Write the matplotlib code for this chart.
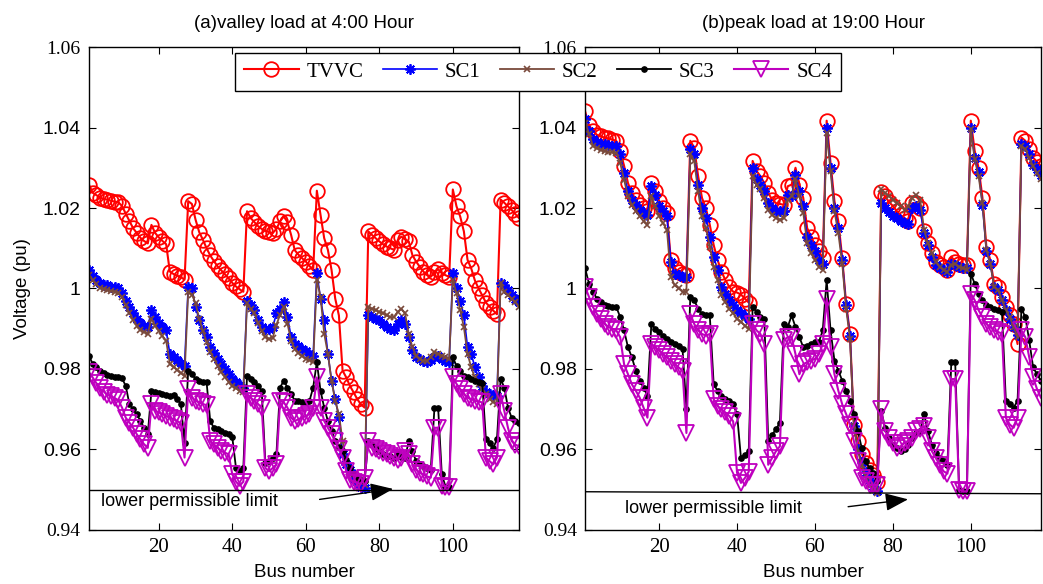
import numpy as np
import matplotlib
matplotlib.use("Agg")
import matplotlib.pyplot as plt

bus = np.arange(1, 119)

# (a) valley load at 4:00
valley_tvvc = [1.0258, 1.0238, 1.0232, 1.0226, 1.0222, 1.0221, 1.0218, 1.0216, 1.0214, 1.0205,
               1.0186, 1.0168, 1.0150, 1.0138, 1.0126, 1.0118, 1.0112, 1.0158, 1.0138, 1.0127,
               1.0118, 1.0110, 1.0042, 1.0036, 1.0032, 1.0028, 1.0022, 1.0217, 1.0210, 1.0171,
               1.0140, 1.0121, 1.0100, 1.0082, 1.0068, 1.0055, 1.0045, 1.0035, 1.0025, 1.0014,
               1.0005, 0.9998, 0.9992, 1.0192, 1.0175, 1.0165, 1.0155, 1.0148, 1.0143, 1.0140,
               1.0138, 1.0148, 1.0167, 1.0179, 1.0165, 1.0133, 1.0095, 1.0084, 1.0075, 1.0067,
               1.0056, 1.0045, 1.0243, 1.0183, 1.0125, 1.0096, 1.0046, 0.9975, 0.9933, 0.9796,
               0.9779, 0.9758, 0.9742, 0.9725, 0.9712, 0.9704, 1.0142, 1.0133, 1.0125, 1.0117,
               1.0110, 1.0104, 1.0100, 1.0096, 1.0120, 1.0129, 1.0122, 1.0117, 1.0083, 1.0067,
               1.0054, 1.0042, 1.0033, 1.0029, 1.0040, 1.0048, 1.0038, 1.0033, 1.0029, 1.0246,
               1.0204, 1.0179, 1.0142, 1.0071, 1.0050, 1.0020, 1.0000, 0.9983, 0.9965, 0.9955,
               0.9945, 0.9936, 1.0221, 1.0213, 1.0204, 1.0195, 1.0185, 1.0175]
valley_sc1 = [1.0046, 1.0030, 1.0021, 1.0013, 1.0008, 1.0008, 1.0004, 1.0004, 1.0000, 0.9988,
              0.9970, 0.9954, 0.9938, 0.9925, 0.9915, 0.9908, 0.9904, 0.9946, 0.9929, 0.9915,
              0.9905, 0.9896, 0.9838, 0.9830, 0.9822, 0.9815, 0.9808, 1.0004, 1.0000, 0.9954,
              0.9921, 0.9896, 0.9880, 0.9854, 0.9840, 0.9825, 0.9812, 0.9800, 0.9788, 0.9775,
              0.9768, 0.9760, 0.9754, 0.9970, 0.9960, 0.9946, 0.9921, 0.9904, 0.9900, 0.9900,
              0.9904, 0.9938, 0.9950, 0.9967, 0.9929, 0.9880, 0.9863, 0.9856, 0.9850, 0.9844,
              0.9838, 0.9833, 1.0038, 0.9975, 0.9921, 0.9838, 0.9771, 0.9725, 0.9680, 0.9588,
              0.9565, 0.9548, 0.9530, 0.9518, 0.9508, 0.9504, 0.9933, 0.9930, 0.9925, 0.9921,
              0.9912, 0.9904, 0.9900, 0.9896, 0.9913, 0.9921, 0.9913, 0.9880, 0.9846, 0.9830,
              0.9825, 0.9821, 0.9817, 0.9822, 0.9830, 0.9833, 0.9825, 0.9821, 0.9818, 1.0038,
              1.0000, 0.9970, 0.9933, 0.9854, 0.9838, 0.9804, 0.9779, 0.9758, 0.9742, 0.9738,
              0.9735, 0.9733, 1.0013, 1.0008, 0.9996, 0.9985, 0.9975, 0.9967]
valley_sc2 = [1.0033, 1.0020, 1.0010, 1.0002, 0.9998, 0.9996, 0.9994, 0.9992, 0.9990, 0.9978,
              0.9958, 0.9940, 0.9922, 0.9908, 0.9898, 0.9892, 0.9888, 0.9925, 0.9908, 0.9895,
              0.9882, 0.9870, 0.9813, 0.9805, 0.9798, 0.9790, 0.9783, 0.9992, 0.9985, 0.9963,
              0.9925, 0.9895, 0.9868, 0.9842, 0.9825, 0.9808, 0.9792, 0.9780, 0.9768, 0.9758,
              0.9752, 0.9746, 0.9742, 0.9963, 0.9950, 0.9938, 0.9915, 0.9895, 0.9880, 0.9875,
              0.9878, 0.9910, 0.9935, 0.9954, 0.9913, 0.9870, 0.9850, 0.9840, 0.9832, 0.9826,
              0.9822, 0.9818, 1.0021, 0.9979, 0.9888, 0.9838, 0.9771, 0.9720, 0.9688, 0.9621,
              0.9571, 0.9550, 0.9538, 0.9525, 0.9518, 0.9513, 0.9954, 0.9950, 0.9946, 0.9942,
              0.9938, 0.9933, 0.9929, 0.9929, 0.9942, 0.9950, 0.9938, 0.9888, 0.9854, 0.9833,
              0.9825, 0.9821, 0.9821, 0.9830, 0.9842, 0.9838, 0.9833, 0.9829, 0.9825, 1.0021,
              0.9988, 0.9946, 0.9904, 0.9838, 0.9804, 0.9779, 0.9763, 0.9750, 0.9738, 0.9725,
              0.9718, 0.9713, 1.0013, 0.9992, 0.9983, 0.9975, 0.9967, 0.9954]
valley_sc3 = [0.9833, 0.9813, 0.9804, 0.9795, 0.9790, 0.9786, 0.9783, 0.9780, 0.9779, 0.9777,
              0.9758, 0.9713, 0.9700, 0.9688, 0.9671, 0.9654, 0.9638, 0.9746, 0.9742, 0.9740,
              0.9738, 0.9736, 0.9733, 0.9735, 0.9725, 0.9713, 0.9617, 0.9796, 0.9788, 0.9775,
              0.9771, 0.9767, 0.9767, 0.9670, 0.9654, 0.9650, 0.9646, 0.9642, 0.9638, 0.9630,
              0.9554, 0.9546, 0.9554, 0.9783, 0.9775, 0.9767, 0.9758, 0.9746, 0.9567, 0.9571,
              0.9579, 0.9588, 0.9754, 0.9771, 0.9754, 0.9738, 0.9721, 0.9721, 0.9717, 0.9719,
              0.9721, 0.9754, 0.9817, 0.9746, 0.9704, 0.9671, 0.9646, 0.9621, 0.9605, 0.9596,
              0.9575, 0.9554, 0.9538, 0.9530, 0.9525, 0.9521, 0.9621, 0.9612, 0.9604, 0.9596,
              0.9588, 0.9585, 0.9583, 0.9579, 0.9588, 0.9582, 0.9578, 0.9621, 0.9596, 0.9571,
              0.9563, 0.9558, 0.9554, 0.9550, 0.9704, 0.9704, 0.9538, 0.9508, 0.9508, 0.9829,
              0.9808, 0.9796, 0.9783, 0.9779, 0.9775, 0.9771, 0.9767, 0.9765, 0.9625, 0.9617,
              0.9604, 0.9625, 0.9775, 0.9754, 0.9704, 0.9679, 0.9672, 0.9667]
valley_sc4 = [0.9792, 0.9779, 0.9765, 0.9752, 0.9744, 0.9736, 0.9732, 0.9728, 0.9722, 0.9704,
              0.9679, 0.9667, 0.9654, 0.9638, 0.9625, 0.9613, 0.9604, 0.9713, 0.9696, 0.9692,
              0.9688, 0.9683, 0.9679, 0.9675, 0.9671, 0.9665, 0.9580, 0.9750, 0.9729, 0.9721,
              0.9717, 0.9713, 0.9710, 0.9621, 0.9613, 0.9604, 0.9596, 0.9592, 0.9588, 0.9538,
              0.9520, 0.9510, 0.9520, 0.9738, 0.9729, 0.9721, 0.9713, 0.9704, 0.9554, 0.9546,
              0.9554, 0.9563, 0.9721, 0.9717, 0.9704, 0.9679, 0.9671, 0.9675, 0.9679, 0.9683,
              0.9688, 0.9704, 0.9779, 0.9704, 0.9671, 0.9654, 0.9638, 0.9621, 0.9600, 0.9580,
              0.9546, 0.9525, 0.9520, 0.9517, 0.9515, 0.9529, 0.9621, 0.9604, 0.9600, 0.9596,
              0.9592, 0.9588, 0.9583, 0.9578, 0.9575, 0.9580, 0.9596, 0.9588, 0.9563, 0.9550,
              0.9542, 0.9538, 0.9533, 0.9530, 0.9654, 0.9654, 0.9510, 0.9508, 0.9508, 0.9779,
              0.9763, 0.9750, 0.9738, 0.9729, 0.9725, 0.9721, 0.9719, 0.9717, 0.9580, 0.9571,
              0.9563, 0.9580, 0.9738, 0.9696, 0.9654, 0.9621, 0.9612, 0.9608]

# (b) peak load at 19:00
peak_tvvc = [1.0440, 1.0405, 1.0392, 1.0382, 1.0378, 1.0375, 1.0373, 1.0370, 1.0367, 1.0342,
             1.0305, 1.0262, 1.0237, 1.0221, 1.0208, 1.0200, 1.0192, 1.0262, 1.0242, 1.0218,
             1.0200, 1.0188, 1.0071, 1.0050, 1.0042, 1.0037, 1.0033, 1.0367, 1.0350, 1.0280,
             1.0225, 1.0200, 1.0158, 1.0108, 1.0071, 1.0042, 1.0021, 1.0004, 0.9992, 0.9990,
             0.9985, 0.9975, 0.9965, 1.0317, 1.0292, 1.0279, 1.0262, 1.0237, 1.0221, 1.0212,
             1.0210, 1.0208, 1.0254, 1.0258, 1.0300, 1.0258, 1.0225, 1.0150, 1.0129, 1.0108,
             1.0092, 1.0075, 1.0417, 1.0312, 1.0217, 1.0167, 1.0075, 0.9962, 0.9888, 0.9660,
             0.9620, 0.9590, 0.9567, 0.9550, 0.9537, 0.9520, 1.0240, 1.0229, 1.0215, 1.0205,
             1.0192, 1.0182, 1.0175, 1.0167, 1.0212, 1.0212, 1.0200, 1.0142, 1.0112, 1.0087,
             1.0067, 1.0058, 1.0054, 1.0046, 1.0079, 1.0067, 1.0062, 1.0058, 1.0058, 1.0417,
             1.0342, 1.0300, 1.0225, 1.0104, 1.0071, 1.0012, 1.0004, 0.9979, 0.9954, 0.9933,
             0.9912, 0.9862, 1.0375, 1.0367, 1.0346, 1.0325, 1.0315, 1.0304]
peak_sc1 = [1.0421, 1.0392, 1.0371, 1.0365, 1.0360, 1.0358, 1.0356, 1.0355, 1.0354, 1.0333,
            1.0287, 1.0242, 1.0221, 1.0208, 1.0196, 1.0187, 1.0183, 1.0254, 1.0233, 1.0204,
            1.0192, 1.0179, 1.0067, 1.0037, 1.0033, 1.0029, 1.0029, 1.0346, 1.0333, 1.0258,
            1.0200, 1.0175, 1.0129, 1.0079, 1.0046, 1.0004, 0.9987, 0.9971, 0.9958, 0.9946,
            0.9940, 0.9932, 0.9925, 1.0300, 1.0271, 1.0258, 1.0242, 1.0212, 1.0200, 1.0192,
            1.0192, 1.0192, 1.0233, 1.0229, 1.0283, 1.0242, 1.0204, 1.0129, 1.0108, 1.0092,
            1.0071, 1.0062, 1.0400, 1.0300, 1.0200, 1.0150, 1.0071, 0.9958, 0.9883, 0.9658,
            0.9600, 0.9570, 0.9545, 0.9525, 0.9510, 0.9496, 1.0212, 1.0200, 1.0190, 1.0180,
            1.0175, 1.0167, 1.0162, 1.0160, 1.0200, 1.0204, 1.0196, 1.0137, 1.0108, 1.0079,
            1.0058, 1.0050, 1.0046, 1.0042, 1.0062, 1.0058, 1.0054, 1.0050, 1.0050, 1.0400,
            1.0325, 1.0290, 1.0208, 1.0092, 1.0062, 1.0004, 0.9996, 0.9971, 0.9946, 0.9925,
            0.9904, 0.9885, 1.0358, 1.0354, 1.0333, 1.0308, 1.0296, 1.0283]
peak_sc2 = [1.0412, 1.0385, 1.0354, 1.0348, 1.0344, 1.0341, 1.0339, 1.0338, 1.0337, 1.0312,
            1.0270, 1.0229, 1.0208, 1.0192, 1.0179, 1.0167, 1.0158, 1.0229, 1.0204, 1.0179,
            1.0162, 1.0146, 1.0029, 1.0008, 1.0000, 0.9992, 0.9992, 1.0333, 1.0317, 1.0242,
            1.0179, 1.0150, 1.0104, 1.0054, 1.0021, 0.9983, 0.9967, 0.9950, 0.9938, 0.9925,
            0.9917, 0.9908, 0.9900, 1.0279, 1.0258, 1.0246, 1.0225, 1.0196, 1.0183, 1.0175,
            1.0171, 1.0175, 1.0221, 1.0229, 1.0271, 1.0229, 1.0188, 1.0112, 1.0087, 1.0071,
            1.0054, 1.0046, 1.0387, 1.0292, 1.0192, 1.0137, 1.0062, 0.9950, 0.9875, 0.9658,
            0.9596, 0.9562, 0.9533, 0.9512, 0.9500, 0.9492, 1.0246, 1.0237, 1.0229, 1.0221,
            1.0212, 1.0204, 1.0196, 1.0204, 1.0225, 1.0233, 1.0221, 1.0146, 1.0112, 1.0087,
            1.0067, 1.0054, 1.0046, 1.0042, 1.0058, 1.0062, 1.0054, 1.0050, 1.0046, 1.0396,
            1.0321, 1.0279, 1.0212, 1.0096, 1.0062, 1.0004, 0.9996, 0.9971, 0.9946, 0.9929,
            0.9904, 0.9879, 1.0354, 1.0346, 1.0325, 1.0304, 1.0287, 1.0271]
peak_sc3 = [1.0050, 1.0012, 0.9992, 0.9975, 0.9966, 0.9958, 0.9956, 0.9954, 0.9954, 0.9929,
            0.9896, 0.9854, 0.9829, 0.9796, 0.9771, 0.9754, 0.9733, 0.9912, 0.9900, 0.9892,
            0.9883, 0.9875, 0.9867, 0.9862, 0.9858, 0.9850, 0.9700, 0.9979, 0.9971, 0.9950,
            0.9937, 0.9933, 0.9933, 0.9762, 0.9746, 0.9733, 0.9725, 0.9721, 0.9712, 0.9688,
            0.9579, 0.9587, 0.9596, 0.9954, 0.9942, 0.9929, 0.9925, 0.9621, 0.9637, 0.9650,
            0.9667, 0.9912, 0.9904, 0.9933, 0.9904, 0.9879, 0.9854, 0.9858, 0.9862, 0.9867,
            0.9867, 0.9896, 1.0021, 0.9896, 0.9821, 0.9796, 0.9771, 0.9746, 0.9721, 0.9688,
            0.9646, 0.9604, 0.9571, 0.9554, 0.9542, 0.9521, 0.9696, 0.9654, 0.9629, 0.9612,
            0.9604, 0.9596, 0.9600, 0.9612, 0.9629, 0.9640, 0.9646, 0.9688, 0.9646, 0.9612,
            0.9592, 0.9580, 0.9571, 0.9562, 0.9817, 0.9817, 0.9500, 0.9496, 0.9496, 1.0037,
            1.0012, 0.9987, 0.9971, 0.9958, 0.9954, 0.9950, 0.9946, 0.9942, 0.9721, 0.9712,
            0.9704, 0.9721, 0.9950, 0.9929, 0.9871, 0.9804, 0.9787, 0.9771]
peak_sc4 = [1.0004, 0.9979, 0.9954, 0.9937, 0.9925, 0.9912, 0.9904, 0.9900, 0.9896, 0.9879,
            0.9812, 0.9787, 0.9762, 0.9746, 0.9729, 0.9704, 0.9679, 0.9862, 0.9854, 0.9846,
            0.9837, 0.9829, 0.9821, 0.9812, 0.9804, 0.9796, 0.9641, 0.9937, 0.9912, 0.9896,
            0.9887, 0.9883, 0.9887, 0.9725, 0.9708, 0.9700, 0.9692, 0.9683, 0.9670, 0.9542,
            0.9517, 0.9529, 0.9545, 0.9912, 0.9896, 0.9887, 0.9862, 0.9562, 0.9579, 0.9596,
            0.9608, 0.9871, 0.9879, 0.9879, 0.9837, 0.9787, 0.9812, 0.9817, 0.9821, 0.9825,
            0.9837, 0.9862, 0.9975, 0.9854, 0.9787, 0.9746, 0.9712, 0.9688, 0.9662, 0.9621,
            0.9571, 0.9529, 0.9521, 0.9512, 0.9512, 0.9512, 0.9700, 0.9646, 0.9629, 0.9617,
            0.9604, 0.9608, 0.9617, 0.9621, 0.9629, 0.9646, 0.9650, 0.9658, 0.9629, 0.9596,
            0.9579, 0.9562, 0.9546, 0.9540, 0.9775, 0.9775, 0.9500, 0.9496, 0.9496, 0.9987,
            0.9971, 0.9946, 0.9929, 0.9912, 0.9904, 0.9896, 0.9892, 0.9888, 0.9679, 0.9662,
            0.9654, 0.9679, 0.9896, 0.9879, 0.9829, 0.9779, 0.9750, 0.9729]

names = ['TVVC', 'SC1', 'SC2', 'SC3', 'SC4']
titles = ['(a)valley load at 4:00 Hour', '(b)peak load at 19:00 Hour']
yticks = [0.94, 0.96, 0.98, 1.0, 1.02, 1.04, 1.06]
ytick_labels = ['0.94', '0.96', '0.98', '1', '1.02', '1.04', '1.06']
xticks = [20, 40, 60, 80, 100]
limit = 0.95

styles = [
    dict(color='#ff0000', marker='o', ms=10.5, mfc='none', mew=1.3, lw=1.5),
    dict(color='#0000ff', marker=(8, 2, 0), ms=7.5, mew=1.3, lw=1.2),
    dict(color='#7a4a3c', marker='x', ms=3.8, mew=1.2, lw=1.3),
    dict(color='#000000', marker='o', ms=3.8, lw=1.3),
    dict(color='#bf00bf', marker='v', ms=11, mfc='none', mew=1.3, lw=1.5),
]

SANS = 'Liberation Sans'
SERIF = 'Liberation Serif'

fig = plt.figure(figsize=(10.43, 5.84), dpi=100)
ax1 = fig.add_axes([0.0853, 0.0925, 0.4123, 0.827])
ax2 = fig.add_axes([0.561, 0.0925, 0.437, 0.827])

panels = [(ax1, [valley_tvvc, valley_sc1, valley_sc2, valley_sc3, valley_sc4]),
          (ax2, [peak_tvvc, peak_sc1, peak_sc2, peak_sc3, peak_sc4])]

for k, (ax, series) in enumerate(panels):
    for vals, st, nm in zip(series, styles, names):
        ax.plot(bus, vals, label=nm, **st)
    ax.set_xlim(1, 118)
    ax.set_ylim(0.94, 1.06)
    ax.set_xticks(xticks)
    ax.set_xticklabels([str(t) for t in xticks], family=SERIF, fontsize=15)
    ax.set_yticks(yticks)
    ax.set_yticklabels(ytick_labels, family=SANS, fontsize=14)
    for lab in ax.get_yticklabels():
        if lab.get_text() in ('0.94', '1.06'):
            lab.set_family(SERIF)
    ax.tick_params(direction='in', top=True, right=True, length=5, width=0.8, pad=6)
    ax.set_title(titles[k], family=SANS, fontsize=13.5, pad=14)
    ax.set_xlabel('Bus number', family=SANS, fontsize=13.5, labelpad=5)
    for sp in ax.spines.values():
        sp.set_linewidth(1.0)

# lower permissible limit
ax1.plot([1, 118], [limit, limit], color='black', lw=1)
ax2.plot([1, 118], [limit - 0.0005, limit - 0.001], color='black', lw=1)
ax1.text(4.2, 0.947, 'lower permissible limit', family=SANS, fontsize=13, va='center')
ax2.text(11.2, 0.9454, 'lower permissible limit', family=SANS, fontsize=13, va='center')
arrow = dict(arrowstyle='-|>,head_length=1.4,head_width=0.55', color='black', lw=1)
ax1.annotate('', xy=(84.5, 0.9503), xytext=(63, 0.9475), arrowprops=arrow)
ax2.annotate('', xy=(84.6, 0.9477), xytext=(67.8, 0.9457), arrowprops=arrow)

ax1.set_ylabel('Voltage (pu)', family=SANS, fontsize=13.5, labelpad=8)

handles = ax1.get_lines()[:5]
fig.legend(handles, names, loc='center', bbox_to_anchor=(0.516, 0.877), ncol=5,
           prop={'family': SERIF, 'size': 15}, frameon=True, fancybox=False,
           edgecolor='black', framealpha=1, handlelength=2.6, columnspacing=0.9,
           handletextpad=0.4, borderpad=0.45)

fig.savefig('out.png', dpi=100)
